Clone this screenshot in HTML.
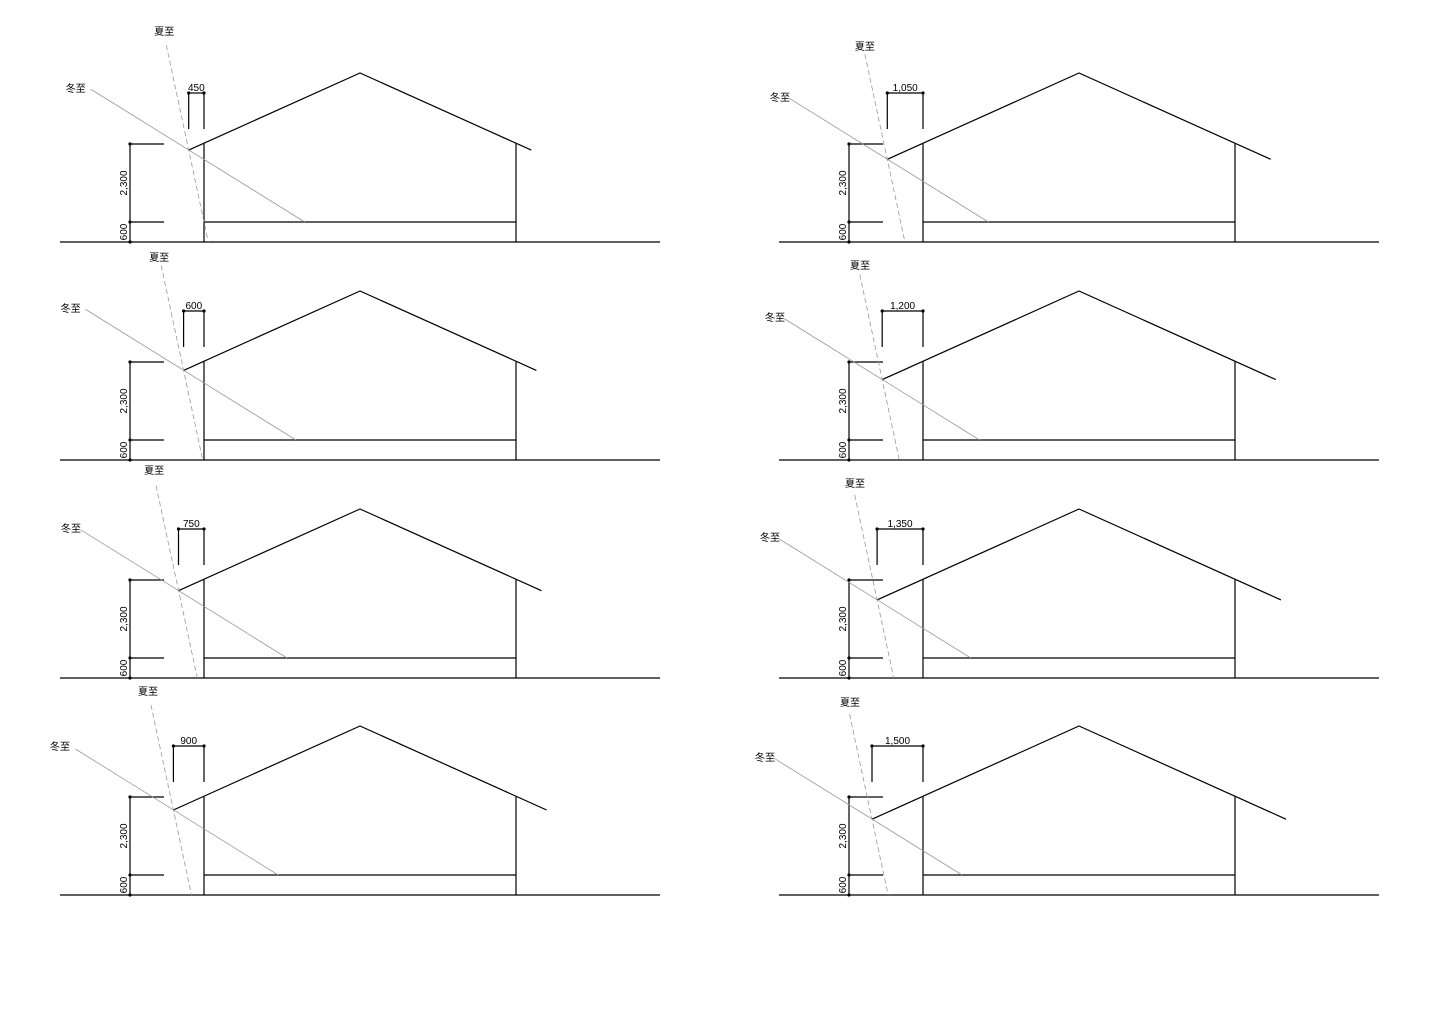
<!DOCTYPE html>
<html><head><meta charset="utf-8"><style>
html,body{margin:0;padding:0;background:#fff;}
svg{display:block;}
text{font-family:"Liberation Sans","Noto Sans CJK JP",sans-serif;font-size:10px;fill:#000;}
.k{stroke:#000;stroke-width:1.2;fill:none;}
.w{stroke:#999;stroke-width:0.8;fill:none;}
.s{stroke:#999;stroke-width:0.8;fill:none;stroke-dasharray:5,3;}
</style></head><body>
<svg width="1440" height="1017" viewBox="0 0 1440 1017" xmlns="http://www.w3.org/2000/svg">
<defs>
<g id="base">
<line class="k" x1="60" y1="242" x2="660" y2="242"/>
<line class="k" x1="204" y1="242" x2="204" y2="143"/>
<line class="k" x1="516" y1="242" x2="516" y2="143"/>
<line class="k" x1="204" y1="222" x2="516" y2="222"/>
<line class="k" x1="130" y1="144" x2="130" y2="242"/>
<line class="k" x1="130" y1="144" x2="164" y2="144"/>
<line class="k" x1="130" y1="222" x2="164" y2="222"/>
<circle cx="130" cy="144" r="1.6"/><circle cx="130" cy="222" r="1.6"/><circle cx="130" cy="242" r="1.6"/>
<text transform="translate(127,183) rotate(-90)" text-anchor="middle">2,300</text>
<text transform="translate(127,232) rotate(-90)" text-anchor="middle">600</text>
<line class="k" x1="204" y1="93" x2="204" y2="129"/>
<circle cx="204" cy="93" r="1.6"/>
</g>
</defs>

<!-- Panel generator values: E, Ey, winter start, winter end x, summer start, summer end x -->
<!-- LEFT col -->
<g transform="translate(0,0)">
<use href="#base"/>
<polyline class="k" points="188.7,150.1 360,73 531.3,150.1"/>
<line class="k" x1="188.7" y1="93" x2="204" y2="93"/><line class="k" x1="188.7" y1="93" x2="188.7" y2="129"/><circle cx="188.7" cy="93" r="1.6"/>
<text x="196.3" y="91" text-anchor="middle">450</text>
<line class="w" x1="90.7" y1="89.1" x2="304.7" y2="222"/>
<line class="s" x1="166.3" y1="45.1" x2="208.3" y2="242"/>
<text x="164.3" y="35" text-anchor="middle">夏至</text>
<text x="75.7" y="92" text-anchor="middle">冬至</text>
</g>
<g transform="translate(0,218)">
<use href="#base"/>
<polyline class="k" points="183.6,152.4 360,73 536.4,152.4"/>
<line class="k" x1="183.6" y1="93" x2="204" y2="93"/><line class="k" x1="183.6" y1="93" x2="183.6" y2="129"/><circle cx="183.6" cy="93" r="1.6"/>
<text x="193.8" y="91" text-anchor="middle">600</text>
<line class="w" x1="85.6" y1="91.4" x2="295.9" y2="222"/>
<line class="s" x1="161.2" y1="47.4" x2="202.7" y2="242"/>
<text x="159.2" y="43" text-anchor="middle">夏至</text>
<text x="70.6" y="94" text-anchor="middle">冬至</text>
</g>
<g transform="translate(0,436)">
<use href="#base"/>
<polyline class="k" points="178.5,154.7 360,73 541.5,154.7"/>
<line class="k" x1="178.5" y1="93" x2="204" y2="93"/><line class="k" x1="178.5" y1="93" x2="178.5" y2="129"/><circle cx="178.5" cy="93" r="1.6"/>
<text x="191.3" y="91" text-anchor="middle">750</text>
<line class="w" x1="80.5" y1="93.7" x2="287" y2="222"/>
<line class="s" x1="156.1" y1="49.7" x2="197.3" y2="242"/>
<text x="154.1" y="38" text-anchor="middle">夏至</text>
<text x="71" y="96" text-anchor="middle">冬至</text>
</g>
<g transform="translate(0,653)">
<use href="#base"/>
<polyline class="k" points="173.4,157 360,73 546.6,157"/>
<line class="k" x1="173.4" y1="93" x2="204" y2="93"/><line class="k" x1="173.4" y1="93" x2="173.4" y2="129"/><circle cx="173.4" cy="93" r="1.6"/>
<text x="188.7" y="91" text-anchor="middle">900</text>
<line class="w" x1="75.4" y1="96" x2="278.2" y2="222"/>
<line class="s" x1="151" y1="52" x2="191.5" y2="242"/>
<text x="148" y="42" text-anchor="middle">夏至</text>
<text x="60" y="97" text-anchor="middle">冬至</text>
</g>

<!-- RIGHT col -->
<g transform="translate(719,0)">
<use href="#base"/>
<polyline class="k" points="168.3,159.3 360,73 551.7,159.3"/>
<line class="k" x1="168.3" y1="93" x2="204" y2="93"/><line class="k" x1="168.3" y1="93" x2="168.3" y2="129"/><circle cx="168.3" cy="93" r="1.6"/>
<text x="186.2" y="91" text-anchor="middle">1,050</text>
<line class="w" x1="70.3" y1="98.3" x2="269.4" y2="222"/>
<line class="s" x1="145.9" y1="54.3" x2="185.9" y2="242"/>
<text x="145.9" y="50" text-anchor="middle">夏至</text>
<text x="61" y="101" text-anchor="middle">冬至</text>
</g>
<g transform="translate(719,218)">
<use href="#base"/>
<polyline class="k" points="163.2,161.6 360,73 556.8,161.6"/>
<line class="k" x1="163.2" y1="93" x2="204" y2="93"/><line class="k" x1="163.2" y1="93" x2="163.2" y2="129"/><circle cx="163.2" cy="93" r="1.6"/>
<text x="183.6" y="91" text-anchor="middle">1,200</text>
<line class="w" x1="65.2" y1="100.6" x2="260.6" y2="222"/>
<line class="s" x1="140.8" y1="56.6" x2="180.3" y2="242"/>
<text x="141" y="51" text-anchor="middle">夏至</text>
<text x="56" y="103" text-anchor="middle">冬至</text>
</g>
<g transform="translate(719,436)">
<use href="#base"/>
<polyline class="k" points="158.1,163.9 360,73 561.9,163.9"/>
<line class="k" x1="158.1" y1="93" x2="204" y2="93"/><line class="k" x1="158.1" y1="93" x2="158.1" y2="129"/><circle cx="158.1" cy="93" r="1.6"/>
<text x="181" y="91" text-anchor="middle">1,350</text>
<line class="w" x1="60.1" y1="102.9" x2="251.8" y2="222"/>
<line class="s" x1="135.7" y1="58.9" x2="174.7" y2="242"/>
<text x="136" y="51" text-anchor="middle">夏至</text>
<text x="51" y="105" text-anchor="middle">冬至</text>
</g>
<g transform="translate(719,653)">
<use href="#base"/>
<polyline class="k" points="153,166.2 360,73 567,166.2"/>
<line class="k" x1="153" y1="93" x2="204" y2="93"/><line class="k" x1="153" y1="93" x2="153" y2="129"/><circle cx="153" cy="93" r="1.6"/>
<text x="178.5" y="91" text-anchor="middle">1,500</text>
<line class="w" x1="55" y1="105.2" x2="243" y2="222"/>
<line class="s" x1="130.6" y1="61.2" x2="169.1" y2="242"/>
<text x="131" y="53" text-anchor="middle">夏至</text>
<text x="46" y="108" text-anchor="middle">冬至</text>
</g>
</svg>
</body></html>
